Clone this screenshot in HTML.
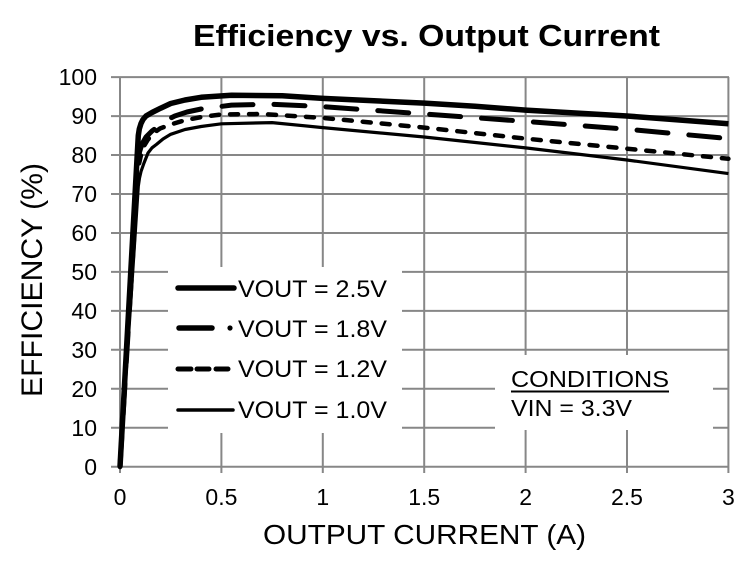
<!DOCTYPE html>
<html>
<head>
<meta charset="utf-8">
<style>
  html, body { margin: 0; padding: 0; background: #ffffff; }
  svg { display: block; }
  text { font-family: "Liberation Sans", Arial, sans-serif; fill: #000; }
</style>
</head>
<body>
<svg width="755" height="575" viewBox="0 0 755 575" xmlns="http://www.w3.org/2000/svg">
  <rect x="0" y="0" width="755" height="575" fill="#ffffff"/>

  <!-- Title -->
  <text x="193" y="46" font-size="31" font-weight="bold" textLength="467" lengthAdjust="spacingAndGlyphs">Efficiency vs. Output Current</text>

  <!-- Grid -->
  <g stroke="#878787" stroke-width="2" fill="none">
    <line x1="111" y1="466.7" x2="729" y2="466.7"/>
    <line x1="111" y1="427.7" x2="729" y2="427.7"/>
    <line x1="111" y1="388.8" x2="729" y2="388.8"/>
    <line x1="111" y1="349.8" x2="729" y2="349.8"/>
    <line x1="111" y1="310.9" x2="729" y2="310.9"/>
    <line x1="111" y1="271.9" x2="729" y2="271.9"/>
    <line x1="111" y1="233.0" x2="729" y2="233.0"/>
    <line x1="111" y1="194.0" x2="729" y2="194.0"/>
    <line x1="111" y1="155.0" x2="729" y2="155.0"/>
    <line x1="111" y1="116.1" x2="729" y2="116.1"/>
    <line x1="111" y1="77.1" x2="729" y2="77.1"/>
    <line x1="120" y1="77" x2="120" y2="473"/>
    <line x1="221.4" y1="77" x2="221.4" y2="473"/>
    <line x1="322.8" y1="77" x2="322.8" y2="473"/>
    <line x1="424.2" y1="77" x2="424.2" y2="473"/>
    <line x1="525.6" y1="77" x2="525.6" y2="473"/>
    <line x1="627" y1="77" x2="627" y2="473"/>
    <line x1="728.4" y1="77" x2="728.4" y2="473"/>
  </g>

  <!-- Legend & conditions boxes (cover grid) -->
  <rect x="168" y="267" width="234" height="166" fill="#ffffff"/>
  <rect x="495" y="355" width="218" height="75" fill="#ffffff"/>

  <!-- Y tick labels -->
  <g font-size="23" text-anchor="end">
    <text x="97" y="475">0</text>
    <text x="97" y="436">10</text>
    <text x="97" y="397">20</text>
    <text x="97" y="358">30</text>
    <text x="97" y="319">40</text>
    <text x="97" y="280">50</text>
    <text x="97" y="241">60</text>
    <text x="97" y="202">70</text>
    <text x="97" y="163">80</text>
    <text x="97" y="124">90</text>
    <text x="97" y="85">100</text>
  </g>

  <!-- X tick labels -->
  <g font-size="23" text-anchor="middle">
    <text x="120" y="505">0</text>
    <text x="221.4" y="505">0.5</text>
    <text x="322.8" y="505">1</text>
    <text x="424.2" y="505">1.5</text>
    <text x="525.6" y="505">2</text>
    <text x="627" y="505">2.5</text>
    <text x="728.4" y="505">3</text>
  </g>

  <!-- Axis titles -->
  <text x="263" y="544" font-size="28" textLength="323" lengthAdjust="spacingAndGlyphs">OUTPUT CURRENT (A)</text>
  <text transform="translate(42,397) rotate(-90)" x="0" y="0" font-size="30" textLength="234" lengthAdjust="spacingAndGlyphs">EFFICIENCY (%)</text>

  <!-- Curves -->
  <g fill="none" stroke="#000" stroke-linejoin="round">
    <!-- VOUT = 1.0V -->
    <polyline stroke-width="3.2" points="120,466.7 138.3,186.1 139.5,178 141,171.5 144,163 148,153 152,147.8 156.5,144.4 163,139 170.7,134.3 185,129.5 201.1,126.5 221.4,123.8 272.1,122.6 322.8,127.6 424.2,137 525.6,147.9 627,160 728.4,173.6"/>
    <!-- VOUT = 1.2V -->
    <polyline stroke-width="4.5" stroke-linecap="round" stroke-dasharray="8 11" points="120,466.7 137.2,174.4 139,164 141,155 144,146 148,139.5 153,133.5 160,128.5 170.7,124.5 185,120.2 201.1,117.1 221.4,114.4 262,114 322.8,117.9 424.2,127.6 525.6,138.6 627,148.7 728.4,158.8"/>
    <!-- VOUT = 1.8V -->
    <polyline stroke-width="5" stroke-linecap="round" stroke-dasharray="31 21" points="120,466.7 138.3,162.7 139.5,152 142,144 146,137 152,131 160.6,124.5 167,120 174.8,116 187,112 201.1,109 231.5,105.1 272.1,104.3 322.8,106.6 424.2,114 525.6,121.4 627,129.2 728.4,138.6"/>
    <!-- VOUT = 2.5V -->
    <polyline stroke-width="5.5" points="120,466.7 138.3,135.4 139.3,129 141,123.5 143,119.5 146,116 152,112.5 160.6,108.2 170.7,103.5 185,100 201.1,97.3 231.5,95.3 282.2,95.7 322.8,98.4 424.2,103.1 475,106.2 525.6,110.1 627,116 728.4,123.8"/>
  </g>

  <!-- Legend -->
  <g stroke="#000" fill="none">
    <line x1="178" y1="288" x2="234" y2="288" stroke-width="5.5" stroke-linecap="round"/>
    <line x1="179" y1="328" x2="212" y2="328" stroke-width="5.5" stroke-linecap="round"/>
    <line x1="178" y1="369" x2="191" y2="369" stroke-width="5" stroke-linecap="round"/>
    <line x1="197" y1="369" x2="209" y2="369" stroke-width="5" stroke-linecap="round"/>
    <line x1="216" y1="369" x2="228" y2="369" stroke-width="5" stroke-linecap="round"/>
    <line x1="178" y1="410" x2="233" y2="410" stroke-width="3.5" stroke-linecap="round"/>
  </g>
  <circle cx="230" cy="328" r="2.6" fill="#000"/>
  <g font-size="24">
    <text x="238" y="297" textLength="149" lengthAdjust="spacingAndGlyphs">VOUT = 2.5V</text>
    <text x="238" y="337" textLength="149" lengthAdjust="spacingAndGlyphs">VOUT = 1.8V</text>
    <text x="238" y="377" textLength="149" lengthAdjust="spacingAndGlyphs">VOUT = 1.2V</text>
    <text x="238" y="418" textLength="149" lengthAdjust="spacingAndGlyphs">VOUT = 1.0V</text>
  </g>

  <!-- Conditions -->
  <text x="511" y="387" font-size="23" textLength="158" lengthAdjust="spacingAndGlyphs">CONDITIONS</text>
  <line x1="511" y1="391.5" x2="669" y2="391.5" stroke="#000" stroke-width="2"/>
  <text x="511" y="416" font-size="23" textLength="121" lengthAdjust="spacingAndGlyphs">VIN = 3.3V</text>
</svg>
</body>
</html>
